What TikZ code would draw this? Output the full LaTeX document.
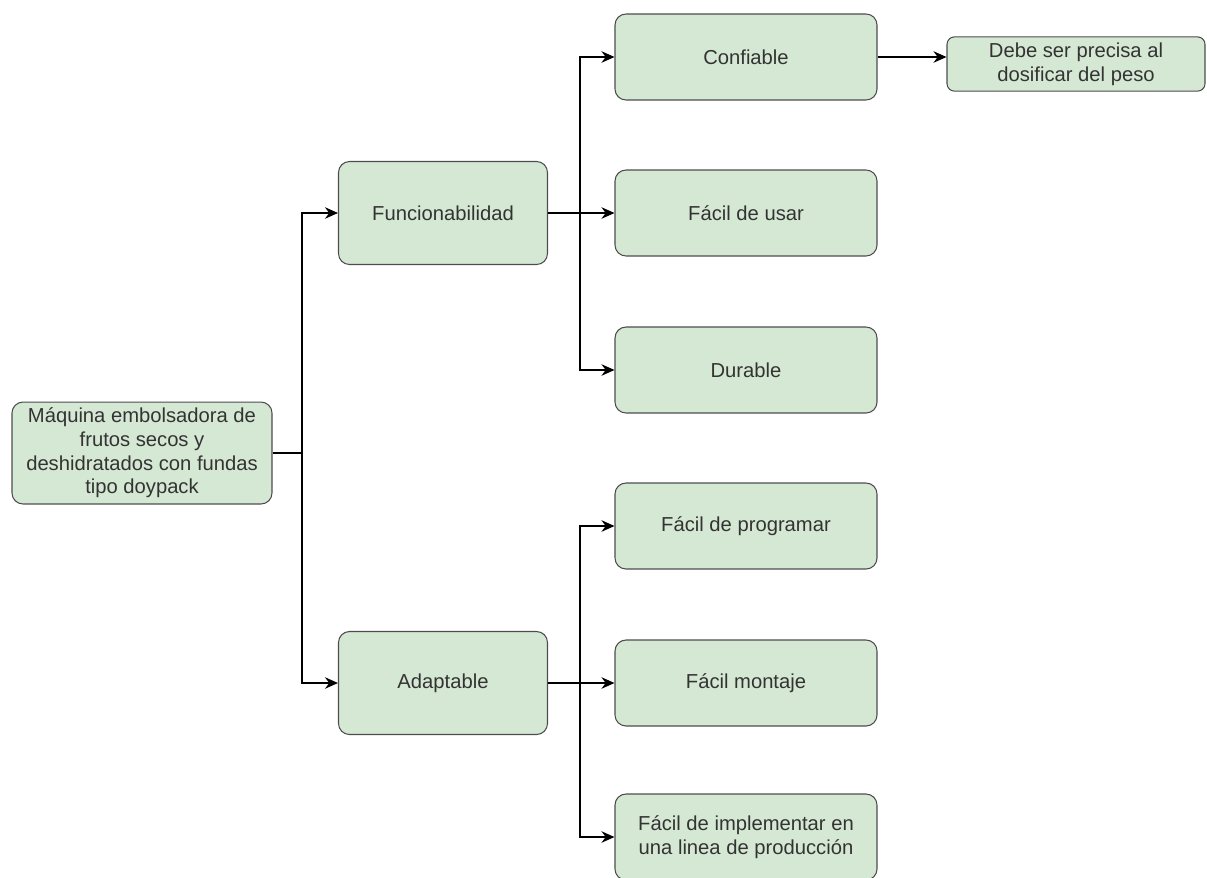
\documentclass[tikz,border=0pt]{standalone}
\usepackage{fontspec}
\setmainfont{Liberation Sans}
\usepackage{xcolor}
\usepackage{tikz}
\usetikzlibrary{positioning, calc, arrows.meta}

\definecolor{boxgreen}{HTML}{D5E8D4}
\definecolor{boxline}{HTML}{4D4D4D}

\begin{document}
\begin{tikzpicture}[
    box/.style={
        draw=boxline,
        fill=boxgreen,
        rounded corners=2.2mm,
        line width=0.6pt,
        align=center,
        font=\fontsize{11.5}{13.5}\selectfont,
        text=black!80,
    },
    rootbox/.style={box, minimum width=5.2cm, minimum height=2.02cm},
    midbox/.style={box, minimum width=4.18cm, minimum height=2.06cm},
    leafbox/.style={box, minimum width=5.24cm, minimum height=1.72cm},
    notebox/.style={box, rounded corners=1.5mm, minimum width=5.16cm, minimum height=0.82cm},
    link/.style={line width=0.75pt, -{Stealth[length=2.6mm, width=2.3mm]}},
]
    \useasboundingbox (0, 0) rectangle (24.14, -17.54);

    % root
    \node[rootbox] (root) at (2.84, -9.06) {Máquina embolsadora de\\frutos secos y\\deshidratados con fundas\\tipo doypack};

    % second level
    \node[midbox] (func) at (8.86, -4.26) {Funcionabilidad};
    \node[midbox] (adapt) at (8.86, -13.66) {Adaptable};

    % third level
    \node[leafbox] (conf) at (14.92, -1.14) {Confiable};
    \node[leafbox] (usar) at (14.92, -4.26) {Fácil de usar};
    \node[leafbox] (durable) at (14.92, -7.40) {Durable};
    \node[leafbox] (prog) at (14.92, -10.52) {Fácil de programar};
    \node[leafbox] (montaje) at (14.92, -13.66) {Fácil montaje};
    \node[leafbox] (impl) at (14.92, -16.74) {Fácil de implementar en\\una linea de producción};

    % fourth level
    \node[notebox] (peso) at (21.52, -1.28) {Debe ser precisa al\\dosificar del peso};

    % junctions
    \coordinate (jroot) at (6.04, 0 |- root.east);
    \coordinate (jfunc) at (11.6, 0 |- func.east);
    \coordinate (jadapt) at (11.6, 0 |- adapt.east);

    \draw[line width=0.75pt] (root.east) -- (jroot);
    \foreach \t in {func, adapt}
        \draw[link] (jroot) |- (\t.west);

    \draw[line width=0.75pt] (func.east) -- (jfunc);
    \foreach \t in {conf, usar, durable}
        \draw[link] (jfunc) |- (\t.west);

    \draw[line width=0.75pt] (adapt.east) -- (jadapt);
    \foreach \t in {prog, montaje, impl}
        \draw[link] (jadapt) |- (\t.west);

    \draw[link] (conf.east) -- (conf.east -| peso.west);
\end{tikzpicture}
\end{document}
